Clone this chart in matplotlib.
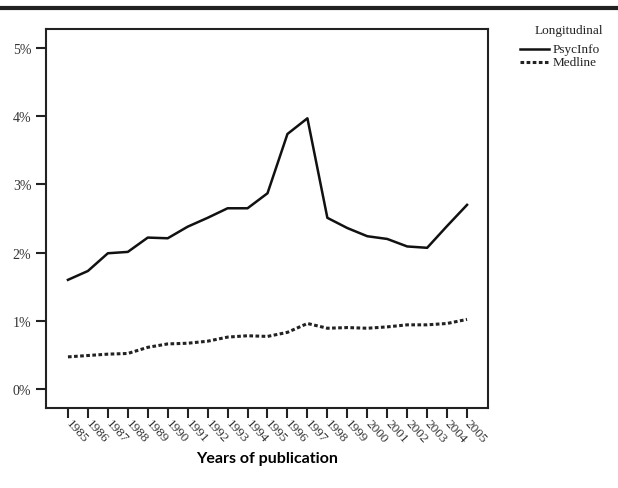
import numpy as np
import matplotlib
matplotlib.use("Agg")
import matplotlib.pyplot as plt
from matplotlib.lines import Line2D

years = list(range(1985, 2006))
psycinfo = [1.60, 1.73, 1.99, 2.01, 2.22, 2.21, 2.38, 2.51, 2.65, 2.65, 2.87,
            3.74, 3.97, 2.51, 2.36, 2.24, 2.20, 2.09, 2.07, 2.39, 2.70]
medline = [0.47, 0.49, 0.51, 0.52, 0.61, 0.66, 0.67, 0.70, 0.76, 0.78, 0.77,
           0.83, 0.96, 0.89, 0.90, 0.89, 0.91, 0.94, 0.94, 0.96, 1.02]
yticks = [0, 1, 2, 3, 4, 5]

W, H = 618, 489
fig = plt.figure(figsize=(W / 100, H / 100), dpi=100)
ax = fig.add_axes([46 / W, 1 - 409 / H, 442 / W, 379 / H])

solid = dict(color='#111111', lw=1.8)
dotted = dict(color='#222222', lw=2.2, linestyle=(0, (1.2, 0.8)))
ax.plot(years, psycinfo, **solid)
ax.plot(years, medline, **dotted)

ax.set_xlim(1983.9, 2006.05)
ax.set_ylim(-0.28, 5.28)
ax.set_yticks(yticks)
ax.set_yticklabels([f'{t}%' for t in yticks], family='Liberation Serif',
                   fontsize=10, color='#333333')
ax.set_xticks(years)
ax.set_xticklabels([str(y) for y in years], rotation=-48, ha='left', va='center',
                   rotation_mode='anchor', family='Liberation Serif',
                   fontsize=9.5, color='#333333')
ax.tick_params(axis='both', direction='out', length=7, width=1.5, color='#222222')
ax.tick_params(axis='x', pad=2)
for s in ax.spines.values():
    s.set_linewidth(1.5)
    s.set_color('#222222')

ax.set_xlabel('Years of publication', family='Lato', fontweight='bold',
              fontsize=11.5, va='center')
ax.xaxis.set_label_coords(0.5, (409 - 459) / 379)

# thick rule across the top
fig.add_artist(Line2D([0, 1], [1 - 9 / H, 1 - 9 / H], color='#222222', lw=3))

# legend block, top right
serif = dict(family='Liberation Serif', fontsize=9.5, color='#222222')
fig.text(603 / W, 1 - 31 / H, 'Longitudinal', ha='right', va='center', **serif)
fig.add_artist(Line2D([520 / W, 549 / W], [1 - 50 / H] * 2, **solid))
fig.text(553 / W, 1 - 50 / H, 'PsycInfo', ha='left', va='center', **serif)
fig.add_artist(Line2D([520 / W, 548 / W], [1 - 63 / H] * 2, **dotted))
fig.text(553 / W, 1 - 63 / H, 'Medline', ha='left', va='center', **serif)

fig.savefig('out.png', dpi=100)
